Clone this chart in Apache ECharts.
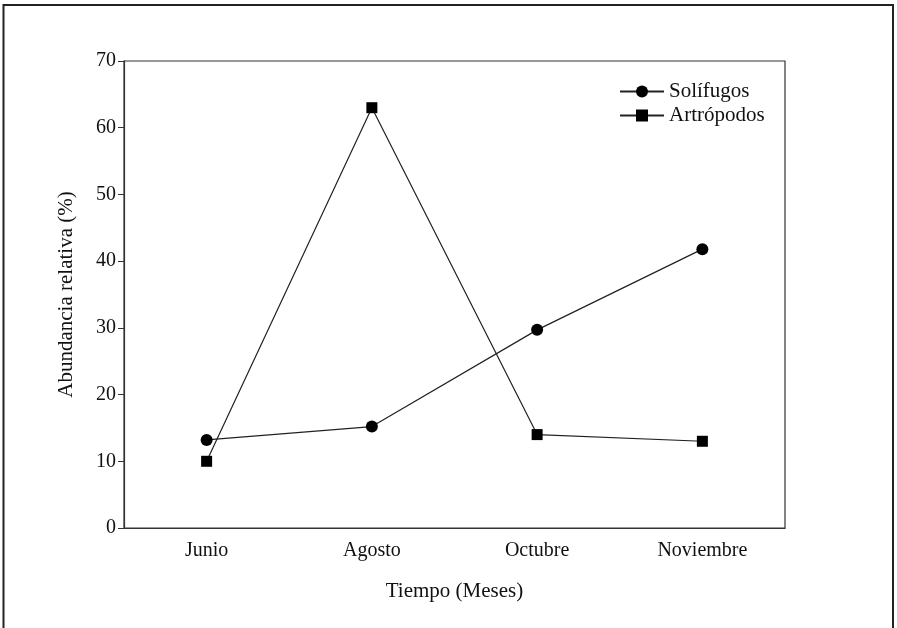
<!DOCTYPE html>
<html>
<head>
<meta charset="utf-8">
<script src="https://cdn.jsdelivr.net/npm/echarts@6/dist/echarts.min.js"></script>
<style>html,body{margin:0;padding:0;background:#fff;}#c{width:897px;height:628px;}</style>
</head>
<body>
<div id="c"></div>
<script>
const categories = ['Junio', 'Agosto', 'Octubre', 'Noviembre'];
const solifugos = [13.2, 15.2, 29.7, 41.8];
const artropodos = [10, 63, 14, 13];
const yTicks = [0, 10, 20, 30, 40, 50, 60, 70];

const font = '"Liberation Serif", "Times New Roman", serif';
const chart = echarts.init(document.getElementById('c'));
chart.setOption({
  backgroundColor: '#fff',
  animation: false,
  graphic: [{
    type: 'polyline',
    shape: { points: [[3.5, 628], [3.5, 5], [893, 5], [893, 628]] },
    style: { stroke: '#222', lineWidth: 2, fill: null }
  }],
  grid: { left: 124, top: 61, right: 112, bottom: 100, show: true, borderColor: '#333', borderWidth: 1.2, containLabel: false },
  legend: {
    orient: 'vertical', left: 614, top: 76, itemWidth: 44, itemHeight: 15, itemGap: 3,
    textStyle: { fontFamily: font, fontSize: 21, color: '#111' },
    data: ['Solífugos', 'Artrópodos']
  },
  xAxis: {
    type: 'category', data: categories, boundaryGap: true,
    name: 'Tiempo (Meses)', nameLocation: 'middle', nameGap: 53,
    nameTextStyle: { fontFamily: font, fontSize: 21, color: '#111' },
    axisLine: { lineStyle: { color: '#333', width: 1.2 } },
    axisTick: { inside: true, alignWithLabel: true, length: 6, lineStyle: { color: '#333' } },
    axisLabel: { fontFamily: font, fontSize: 20, color: '#111', margin: 13 },
    splitLine: { show: false }
  },
  yAxis: {
    type: 'value', min: yTicks[0], max: yTicks[yTicks.length - 1], interval: 10,
    name: 'Abundancia relativa (%)', nameLocation: 'middle', nameGap: 47,
    nameTextStyle: { fontFamily: font, fontSize: 21, color: '#111' },
    axisLine: { show: true, lineStyle: { color: '#333', width: 1.2 } },
    axisTick: { show: true, inside: false, length: 6, lineStyle: { color: '#333' } },
    axisLabel: { fontFamily: font, fontSize: 20, color: '#111', margin: 8 },
    splitLine: { show: false }
  },
  series: [
    {
      name: 'Solífugos', type: 'line', data: solifugos,
      symbol: 'circle', symbolSize: 12,
      lineStyle: { color: '#222', width: 1.2 },
      itemStyle: { color: '#000' }
    },
    {
      name: 'Artrópodos', type: 'line', data: artropodos,
      symbol: 'rect', symbolSize: 11,
      lineStyle: { color: '#222', width: 1.2 },
      itemStyle: { color: '#000' }
    }
  ]
});
</script>
</body>
</html>
